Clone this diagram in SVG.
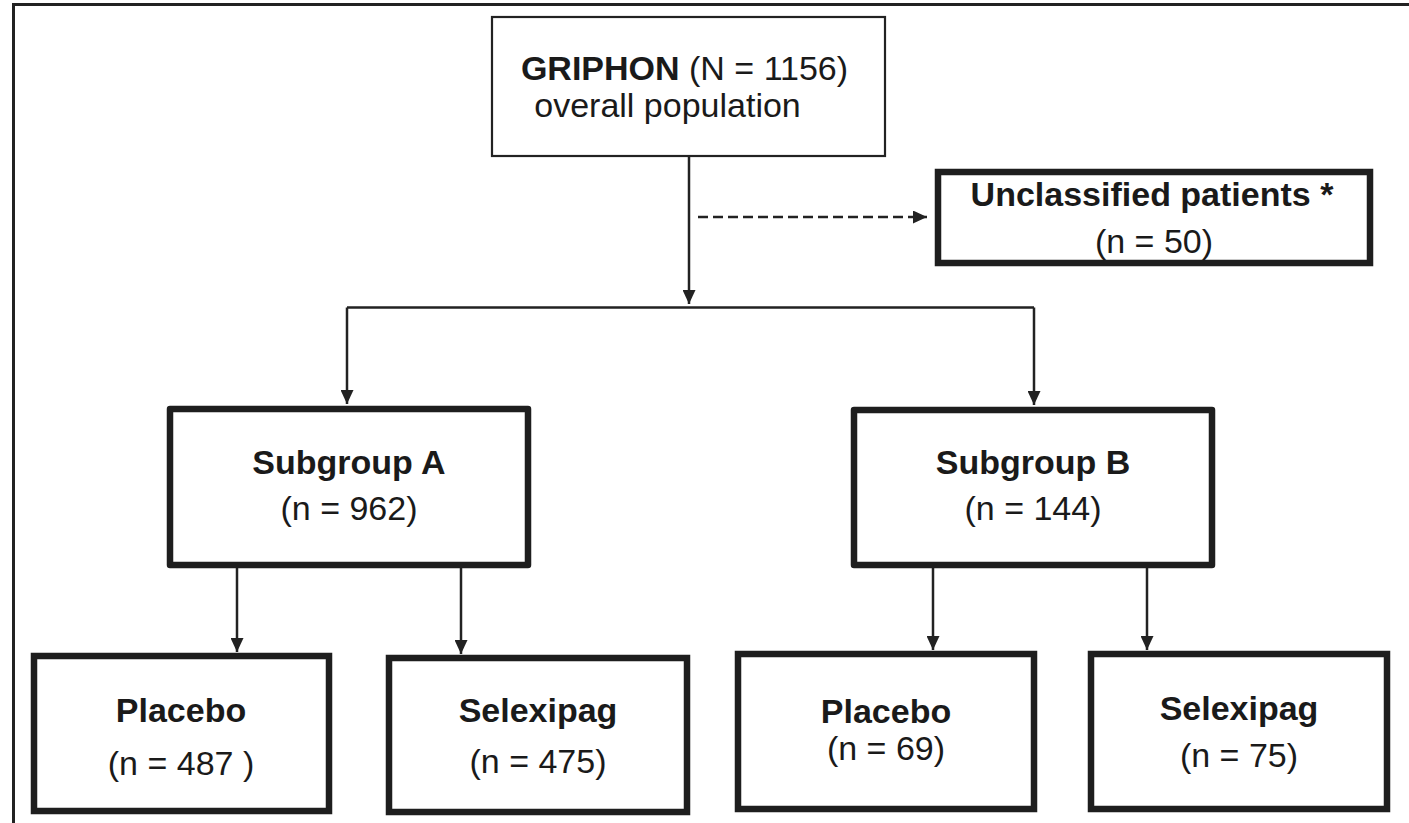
<svg xmlns="http://www.w3.org/2000/svg" width="1409" height="823" viewBox="0 0 1409 823">
<defs>
<style>
.frame{stroke:#222;stroke-width:3;fill:none}
.thin{fill:#fff;stroke:#222;stroke-width:2.2}
.box{fill:#fff;stroke:#1e1e1e;stroke-width:6.5}
.rbox{fill:#fff;stroke:#1e1e1e;stroke-width:6.5;stroke-linejoin:round}
.con{stroke:#222;stroke-width:2.5;fill:none}
.dash{stroke:#222;stroke-width:2.6;fill:none;stroke-dasharray:10 5}
text{font-family:"Liberation Sans",Arial,Helvetica,sans-serif;font-size:34px;fill:#1a1a1a;text-anchor:middle}
.b{font-weight:bold}
</style>
<marker id="ah" markerUnits="userSpaceOnUse" viewBox="0 0 14 13" markerWidth="14" markerHeight="13" refX="14" refY="6.5" orient="auto">
<path d="M0,0 L14,6.5 L0,13 z" fill="#222"/>
</marker>
</defs>
<rect width="1409" height="823" fill="#fff"/>
<path class="frame" d="M13.5,823 V4.5 H1409"/>
<g id="connectors">
<line class="con" x1="689" y1="157" x2="689" y2="304" marker-end="url(#ah)"/>
<line class="dash" x1="698" y1="217" x2="927" y2="217" marker-end="url(#ah)"/>
<path class="con" d="M347,307.5 H1034"/>
<line class="con" x1="347" y1="307.5" x2="347" y2="404" marker-end="url(#ah)"/>
<line class="con" x1="1034" y1="307.5" x2="1034" y2="405" marker-end="url(#ah)"/>
<line class="con" x1="237" y1="568" x2="237" y2="652" marker-end="url(#ah)"/>
<line class="con" x1="461" y1="568" x2="461" y2="654" marker-end="url(#ah)"/>
<line class="con" x1="933" y1="568" x2="933" y2="650" marker-end="url(#ah)"/>
<line class="con" x1="1147" y1="568" x2="1147" y2="650" marker-end="url(#ah)"/>
</g>
<g id="griphon">
<rect class="thin" x="492" y="17" width="393" height="139"/>
<text x="684.5" y="80"><tspan class="b">GRIPHON</tspan> (N = 1156)</text>
<text x="667.5" y="117">overall population</text>
</g>
<g id="unclassified">
<rect class="box" x="938" y="172" width="432" height="91"/>
<text class="b" x="1152" y="206">Unclassified patients *</text>
<text x="1154" y="253">(n = 50)</text>
</g>
<g id="subgroupA">
<rect class="rbox" x="170" y="409" width="358" height="156"/>
<text class="b" x="349" y="474">Subgroup A</text>
<text x="349" y="520">(n = 962)</text>
</g>
<g id="subgroupB">
<rect class="rbox" x="854" y="410" width="358" height="155"/>
<text class="b" x="1033" y="474">Subgroup B</text>
<text x="1033" y="520">(n = 144)</text>
</g>
<g id="placeboA">
<rect class="box" x="34" y="656" width="295" height="155"/>
<text class="b" x="181" y="722">Placebo</text>
<text x="181" y="775">(n = 487 )</text>
</g>
<g id="selexipagA">
<rect class="box" x="389" y="658" width="298" height="154"/>
<text class="b" x="538" y="722">Selexipag</text>
<text x="538" y="773">(n = 475)</text>
</g>
<g id="placeboB">
<rect class="box" x="738" y="654" width="296" height="155"/>
<text class="b" x="886" y="723">Placebo</text>
<text x="886" y="760">(n = 69)</text>
</g>
<g id="selexipagB">
<rect class="box" x="1091" y="654" width="296" height="155"/>
<text class="b" x="1239" y="720">Selexipag</text>
<text x="1239" y="767">(n = 75)</text>
</g>
</svg>
